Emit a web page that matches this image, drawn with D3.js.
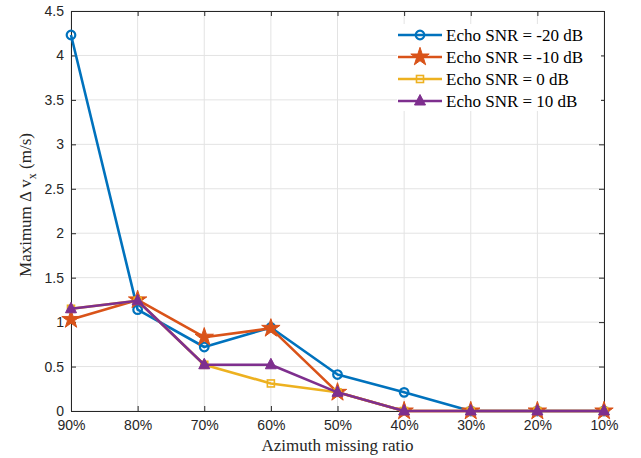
<!DOCTYPE html>
<html><head><meta charset="utf-8">
<script src="https://cdn.jsdelivr.net/npm/d3@7"></script>
<style>body{margin:0;background:#fff}svg{display:block}</style>
</head><body>
<svg id="c" width="641" height="458"></svg>
<script>
const categories = ["90%","80%","70%","60%","50%","40%","30%","20%","10%"];
const snrM20 = [4.23,1.14,0.72,0.94,0.41,0.21,0,0,0];
const snrM10 = [1.03,1.25,0.83,0.93,0.21,0,0,0,0];
const snr0   = [1.15,1.24,0.52,0.31,0.21,0,0,0,0];
const snr10  = [1.15,1.24,0.52,0.52,0.21,0,0,0,0];
const yTicks = [0,0.5,1,1.5,2,2.5,3,3.5,4,4.5];
const seriesNames = ["Echo SNR = -20 dB","Echo SNR = -10 dB","Echo SNR = 0 dB","Echo SNR = 10 dB"];
const seriesColors = ["#0072BD","#D95319","#EDB120","#7E2F8E"];
const seriesMarkers = ["circle","star","square","triangle"];
const seriesValues = [snrM20, snrM10, snr0, snr10];

const svg = d3.select("#c");
const L=71, R=604, T=11, B=411;
const x = d3.scalePoint().domain(categories).range([L,R]);
const y = d3.scaleLinear().domain([0,4.5]).range([B,T]);
const axisCol="#262626";

// grid
const g = svg.append("g");
g.selectAll(".gx").data(categories).enter().append("line")
 .attr("x1",d=>x(d)).attr("x2",d=>x(d)).attr("y1",T).attr("y2",B)
 .attr("stroke","#e3e3e3").attr("stroke-width",1);
g.selectAll(".gy").data(yTicks).enter().append("line")
 .attr("x1",L).attr("x2",R).attr("y1",d=>y(d)).attr("y2",d=>y(d))
 .attr("stroke","#e3e3e3").attr("stroke-width",1);

// axes
const xa = svg.append("g").attr("transform",`translate(0,${B})`)
 .call(d3.axisBottom(x).tickSizeInner(-5).tickSizeOuter(0).tickPadding(9));
const xt = svg.append("g").attr("transform",`translate(0,${T})`)
 .call(d3.axisTop(x).tickSizeInner(-5).tickSizeOuter(0).tickFormat(""));
const ya = svg.append("g").attr("transform",`translate(${L},0)`)
 .call(d3.axisLeft(y).tickValues(yTicks).tickFormat(d3.format("~g")).tickSizeInner(-5).tickSizeOuter(0).tickPadding(7));
const yr = svg.append("g").attr("transform",`translate(${R},0)`)
 .call(d3.axisRight(y).tickValues(yTicks).tickSizeInner(-5).tickSizeOuter(0).tickFormat(""));
[xa,xt,ya,yr].forEach(a=>{
  a.selectAll("path").attr("stroke",axisCol).attr("stroke-width",1);
  a.selectAll("line").attr("stroke",axisCol);
  a.selectAll("text").attr("fill",axisCol).attr("font-family","Liberation Sans, Arial, sans-serif").attr("font-size",14);
});

// lines
const line = d3.line().x((d,i)=>x(categories[i])).y(d=>y(d));
function marker(sel, type, color){
  if(type==="circle"){
    sel.append("circle").attr("r",4.3).attr("fill","none").attr("stroke",color).attr("stroke-width",2.2);
  } else if(type==="star"){
    sel.append("path").attr("d",d3.symbol().type(d3.symbolStar).size(105)()).attr("fill",color).attr("stroke",color).attr("stroke-width",1);
  } else if(type==="square"){
    sel.append("rect").attr("x",-3.5).attr("y",-3.5).attr("width",7).attr("height",7).attr("fill","none").attr("stroke",color).attr("stroke-width",1.6);
  } else {
    sel.append("path").attr("d","M0,-6.5L5.5,4L-5.5,4Z").attr("fill",color).attr("stroke",color).attr("stroke-width",1);
  }
}
seriesValues.forEach((vals,si)=>{
  const c = seriesColors[si];
  svg.append("path").datum(vals).attr("d",line).attr("fill","none").attr("stroke",c).attr("stroke-width",2.6).attr("stroke-linejoin","round");
  vals.forEach((v,i)=>{
    const m = svg.append("g").attr("transform",`translate(${x(categories[i])},${y(v)})`);
    marker(m, seriesMarkers[si], c);
  });
});

// legend
const lg = svg.append("g");
lg.append("rect").attr("x",397).attr("y",24).attr("width",204).attr("height",87).attr("fill","#fff");
seriesNames.forEach((n,i)=>{
  const yy = 35 + i*22;
  const c = seriesColors[i];
  lg.append("line").attr("x1",398).attr("x2",442).attr("y1",yy).attr("y2",yy).attr("stroke",c).attr("stroke-width",2.6);
  const m = lg.append("g").attr("transform",`translate(420,${yy})`);
  marker(m, seriesMarkers[i], c);
  lg.append("text").attr("x",446).attr("y",yy+6).text(n)
    .attr("font-family","Liberation Serif, Times New Roman, serif").attr("font-size",17).attr("fill","#000");
});

// axis labels
svg.append("text").attr("x",(L+R)/2).attr("y",451).attr("text-anchor","middle")
 .attr("font-family","Liberation Serif, Times New Roman, serif").attr("font-size",17).attr("fill","#262626")
 .text("Azimuth missing ratio");
const yl = svg.append("text").attr("transform","translate(31,205) rotate(-90)").attr("text-anchor","middle")
 .attr("font-family","Liberation Serif, Times New Roman, serif").attr("font-size",17).attr("fill","#262626");
yl.append("tspan").text("Maximum Δ v");
yl.append("tspan").attr("dy",5).attr("font-size",12).text("x");
yl.append("tspan").attr("dy",-5).text(" (m/s)");
</script>
</body></html>
